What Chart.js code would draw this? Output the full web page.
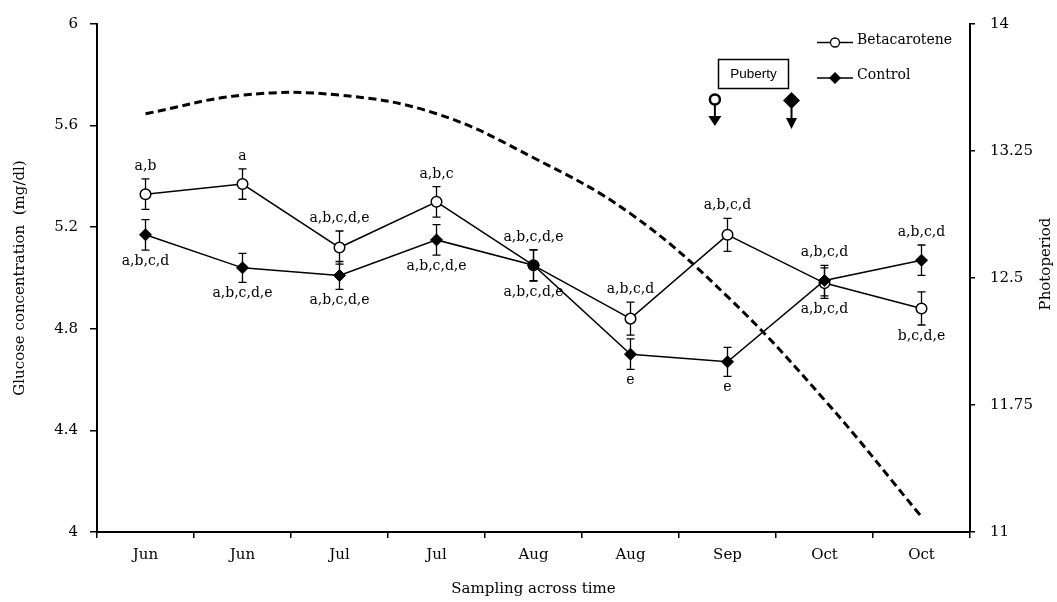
<!DOCTYPE html>
<html>
<head>
<meta charset="utf-8">
<script src="https://cdn.jsdelivr.net/npm/chart.js@4.4.1/dist/chart.umd.min.js"></script>
<style>
  html, body { margin: 0; padding: 0; background: #fff; }
  #wrap { width: 1057px; height: 602px; }
</style>
</head>
<body>
<div id="wrap"><canvas id="c" width="1057" height="602"></canvas></div>
<script>
// Sampling dates
const samplingLabels = ['Jun', 'Jun', 'Jul', 'Jul', 'Aug', 'Aug', 'Sep', 'Oct', 'Oct'];

// Glucose concentration (mg/dl), mean and SEM
const betacarotene    = [5.33, 5.37, 5.12, 5.30, 5.05, 4.84, 5.17, 4.98, 4.88];
const betacaroteneErr = [0.06, 0.06, 0.065, 0.06, 0.06, 0.065, 0.065, 0.06, 0.065];
const control         = [5.17, 5.04, 5.01, 5.15, 5.05, 4.70, 4.67, 4.99, 5.07];
const controlErr      = [0.06, 0.057, 0.055, 0.06, 0.062, 0.06, 0.057, 0.06, 0.06];

// Significance letters
const betacaroteneLetters = ['a,b', 'a', 'a,b,c,d,e', 'a,b,c', 'a,b,c,d,e', 'a,b,c,d', 'a,b,c,d', 'a,b,c,d', 'b,c,d,e'];
const controlLetters      = ['a,b,c,d', 'a,b,c,d,e', 'a,b,c,d,e', 'a,b,c,d,e', 'a,b,c,d,e', 'e', 'e', 'a,b,c,d', 'a,b,c,d'];

// Photoperiod (hours of light)
const photoperiod = [13.47, 13.58, 13.58, 13.47, 13.21, 12.88, 12.39, 11.78, 11.09];

// Axis ticks
const glucoseTicks     = [4, 4.4, 4.8, 5.2, 5.6, 6];
const photoperiodTicks = [11, 11.75, 12.5, 13.25, 14];

// Puberty onset, in sampling-index units
const pubertyBetacarotene = 5.87;
const pubertyControl      = 6.66;

const SERIF = '"DejaVu Serif", serif';
Chart.defaults.color = '#000';
Chart.defaults.font.family = SERIF;

const series = [
  { values: betacarotene, err: betacaroteneErr, letters: betacaroteneLetters, other: control, isBeta: true },
  { values: control, err: controlErr, letters: controlLetters, other: betacarotene, isBeta: false }
];

function drawOpenCircle(ctx, x, y, r, lw) {
  ctx.beginPath();
  ctx.arc(x, y, r, 0, Math.PI * 2);
  ctx.fillStyle = '#fff';
  ctx.fill();
  ctx.lineWidth = lw;
  ctx.strokeStyle = '#000';
  ctx.stroke();
}
function drawDiamond(ctx, x, y, r) {
  ctx.beginPath();
  ctx.moveTo(x - r, y);
  ctx.lineTo(x, y - r);
  ctx.lineTo(x + r, y);
  ctx.lineTo(x, y + r);
  ctx.closePath();
  ctx.fillStyle = '#000';
  ctx.fill();
}
function drawArrowDown(ctx, x, y0, y1, headH, headW) {
  ctx.beginPath();
  ctx.moveTo(x, y0);
  ctx.lineTo(x, y1 - headH + 1);
  ctx.lineWidth = 2;
  ctx.strokeStyle = '#000';
  ctx.stroke();
  ctx.beginPath();
  ctx.moveTo(x - headW, y1 - headH);
  ctx.lineTo(x + headW, y1 - headH);
  ctx.lineTo(x, y1);
  ctx.closePath();
  ctx.fillStyle = '#000';
  ctx.fill();
}

// Error bars under the markers
const errorBars = {
  id: 'errorBars',
  beforeDatasetsDraw(chart) {
    const { ctx, scales: { x, y } } = chart;
    ctx.save();
    ctx.strokeStyle = '#000';
    ctx.lineWidth = 1.3;
    series.forEach(s => {
      s.values.forEach((v, i) => {
        const px = x.getPixelForValue(i);
        const top = y.getPixelForValue(v + s.err[i]);
        const bot = y.getPixelForValue(v - s.err[i]);
        ctx.beginPath();
        ctx.moveTo(px, top); ctx.lineTo(px, bot);
        ctx.moveTo(px - 4, top); ctx.lineTo(px + 4, top);
        ctx.moveTo(px - 4, bot); ctx.lineTo(px + 4, bot);
        ctx.stroke();
      });
    });
    ctx.restore();
  }
};

// Letters, legend, puberty note and right-hand axis title
const annotations = {
  id: 'annotations',
  afterDatasetsDraw(chart) {
    const { ctx, scales: { x, y } } = chart;
    ctx.save();
    ctx.font = '14px ' + SERIF;
    ctx.fillStyle = '#000';
    ctx.textAlign = 'center';
    ctx.textBaseline = 'alphabetic';
    series.forEach(s => {
      s.values.forEach((v, i) => {
        const above = s.isBeta ? v >= s.other[i] : v > s.other[i];
        const px = x.getPixelForValue(i);
        if (above) {
          ctx.fillText(s.letters[i], px, y.getPixelForValue(v + s.err[i]) - 9);
        } else {
          ctx.fillText(s.letters[i], px, y.getPixelForValue(v - s.err[i]) + 15);
        }
      });
    });

    // legend
    const lx0 = 817, lx1 = 853, lmx = 835, tx = 857;
    const rows = [42.5, 78];
    ctx.lineWidth = 1.5;
    ctx.strokeStyle = '#000';
    rows.forEach(ry => {
      ctx.beginPath(); ctx.moveTo(lx0, ry); ctx.lineTo(lx1, ry); ctx.stroke();
    });
    drawOpenCircle(ctx, lmx, rows[0], 4.5, 1.3);
    drawDiamond(ctx, lmx, rows[1], 6);
    ctx.fillStyle = '#000';
    ctx.textAlign = 'left';
    ctx.font = '14px ' + SERIF;
    ctx.fillText('Betacarotene', tx, rows[0] + 1);
    ctx.fillText('Control', tx, rows[1] + 1);

    // puberty box
    ctx.lineWidth = 1.5;
    ctx.strokeRect(718.5, 59.5, 70, 29);
    ctx.font = '13.5px "Liberation Sans", Arial, sans-serif';
    ctx.textAlign = 'center';
    ctx.textBaseline = 'middle';
    ctx.fillText('Puberty', 753.5, 74.5);

    // puberty onset markers
    const bx = x.getPixelForValue(pubertyBetacarotene);
    drawOpenCircle(ctx, bx, 99.5, 5, 2.5);
    drawArrowDown(ctx, bx, 105, 126, 10, 6.5);
    const cx = x.getPixelForValue(pubertyControl);
    drawDiamond(ctx, cx, 100.5, 8.5);
    drawArrowDown(ctx, cx, 108, 129, 11, 5.5);

    // right axis title, reading upwards
    ctx.save();
    ctx.translate(1046, 264);
    ctx.rotate(-Math.PI / 2);
    ctx.font = '15px ' + SERIF;
    ctx.textAlign = 'center';
    ctx.textBaseline = 'middle';
    ctx.fillText('Photoperiod', 0, 0);
    ctx.restore();

    ctx.restore();
  }
};

new Chart(document.getElementById('c'), {
  type: 'line',
  data: {
    labels: samplingLabels,
    datasets: [
      {
        label: 'Control',
        data: control,
        yAxisID: 'y',
        order: 1,
        borderColor: '#000',
        borderWidth: 1.5,
        pointStyle: 'rectRot',
        pointRadius: 6,
        pointBackgroundColor: '#000',
        pointBorderColor: '#000',
        pointBorderWidth: 1,
        tension: 0,
        fill: false
      },
      {
        label: 'Betacarotene',
        data: betacarotene,
        yAxisID: 'y',
        order: 2,
        borderColor: '#000',
        borderWidth: 1.5,
        pointStyle: 'circle',
        pointRadius: 5.3,
        pointBackgroundColor: '#fff',
        pointBorderColor: '#000',
        pointBorderWidth: 1.5,
        tension: 0,
        fill: false
      },
      {
        label: 'Photoperiod',
        data: photoperiod,
        yAxisID: 'y2',
        order: 3,
        borderColor: '#000',
        borderWidth: 3,
        borderDash: [8, 4.5],
        pointRadius: 0,
        tension: 0.4,
        fill: false
      }
    ]
  },
  options: {
    responsive: false,
    animation: false,
    events: [],
    layout: { padding: { top: 21, left: 0, right: 0, bottom: 0 } },
    plugins: { legend: { display: false }, tooltip: { enabled: false } },
    scales: {
      x: {
        type: 'category',
        offset: true,
        afterFit: s => { s.height = 70; },
        grid: { offset: true, drawOnChartArea: false, tickLength: 6, color: '#000', lineWidth: 1.5 },
        border: { display: true, color: '#000', width: 2 },
        ticks: { font: { family: SERIF, size: 15 }, color: '#000', padding: 8, maxRotation: 0, autoSkip: false },
        title: { display: true, text: 'Sampling across time', font: { family: SERIF, size: 15 }, color: '#000', padding: { top: 0, bottom: 4 } }
      },
      y: {
        position: 'left',
        min: 4, max: 6,
        afterFit: s => { s.width = 97; },
        afterBuildTicks: s => { s.ticks = glucoseTicks.map(v => ({ value: v })); },
        grid: { drawOnChartArea: false, tickLength: 7, color: '#000', lineWidth: 1.5 },
        border: { display: true, color: '#000', width: 2 },
        ticks: { font: { family: SERIF, size: 15 }, color: '#000', padding: 12, callback: v => String(v) },
        title: { display: true, text: 'Glucose concentration  (mg/dl)', font: { family: SERIF, size: 15 }, color: '#000', padding: { top: 11, bottom: 0 } }
      },
      y2: {
        position: 'right',
        min: 11, max: 14,
        afterFit: s => { s.width = 87; },
        afterBuildTicks: s => { s.ticks = photoperiodTicks.map(v => ({ value: v })); },
        grid: { drawOnChartArea: false, tickLength: 5, color: '#000', lineWidth: 1.5 },
        border: { display: true, color: '#000', width: 2 },
        ticks: { font: { family: SERIF, size: 15 }, color: '#000', padding: 15, callback: v => String(v) },
        title: { display: false }
      }
    }
  },
  plugins: [errorBars, annotations]
});
</script>
</body>
</html>
